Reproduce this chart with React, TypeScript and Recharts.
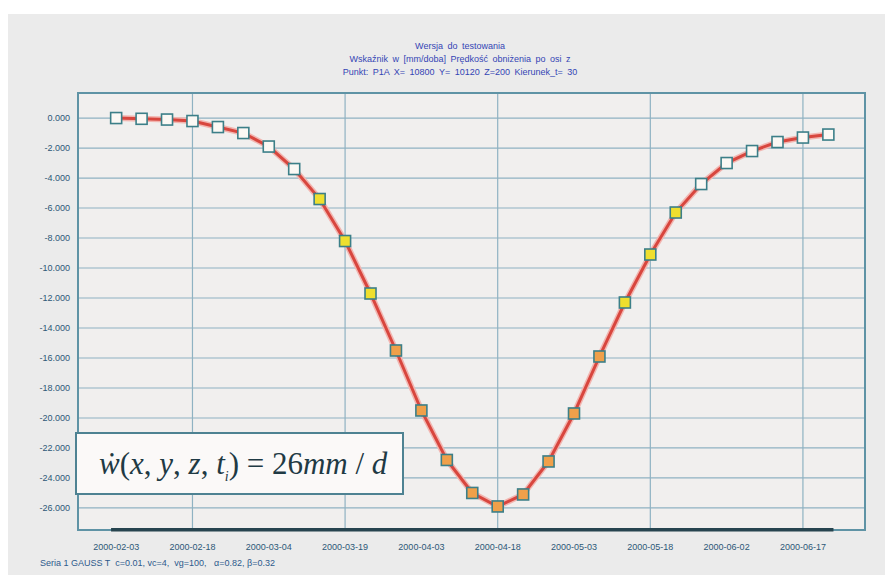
import React from "react";
import {
  LineChart,
  Line,
  XAxis,
  YAxis,
  CartesianGrid,
  ReferenceArea,
  ReferenceLine,
} from "recharts";

// sample dates (every 5 days) and settlement rate in mm
const dates = [
  "2000-02-03", "2000-02-08", "2000-02-13", "2000-02-18", "2000-02-23",
  "2000-02-28", "2000-03-04", "2000-03-09", "2000-03-14", "2000-03-19",
  "2000-03-24", "2000-03-29", "2000-04-03", "2000-04-08", "2000-04-13",
  "2000-04-18", "2000-04-23", "2000-04-28", "2000-05-03", "2000-05-08",
  "2000-05-13", "2000-05-18", "2000-05-23", "2000-05-28", "2000-06-02",
  "2000-06-07", "2000-06-12", "2000-06-17", "2000-06-22",
];
const values = [
  0, -0.05, -0.1, -0.2, -0.6, -1.0, -1.9, -3.4, -5.4, -8.2, -11.7, -15.5,
  -19.5, -22.8, -25.0, -25.9, -25.1, -22.9, -19.7, -15.9, -12.3, -9.1, -6.3,
  -4.4, -3.0, -2.2, -1.6, -1.3, -1.1,
];
const tickDates = [
  "2000-02-03", "2000-02-18", "2000-03-04", "2000-03-19", "2000-04-03",
  "2000-04-18", "2000-05-03", "2000-05-18", "2000-06-02", "2000-06-17",
];
const yTicks = [0, -2, -4, -6, -8, -10, -12, -14, -16, -18, -20, -22, -24, -26];
const baseLine = { from: "2000-02-02", to: "2000-06-23", value: -27.45 };

const titleLines = [
  "Wersja do testowania",
  "Wskaźnik w [mm/doba]   Prędkość obniżenia po osi z",
  "Punkt: P1A  X= 10800  Y= 10120  Z=200  Kierunek_t= 30",
];
const footer = "Seria 1 GAUSS T  c=0.01, vc=4,  vg=100,   α=0.82, β=0.32";

const DAY = 86400000;
const t0 = Date.parse(dates[0]);
const toDay = (d: string) => Math.round((Date.parse(d) - t0) / DAY);

const data = dates.map((d, i) => ({ day: toDay(d), w: values[i] }));
const xTicks = tickDates.map(toDay);
const xDomain = [-7.5, 147.2];
const yDomain = [-27.47, 1.67];

const GRID = "#8fb2c2";
const TEXT = "#2d5878";

const SquareDot = (props: any) => {
  const { cx, cy, value } = props;
  if (cx == null || cy == null) return null;
  const fill = value > -5 ? "#fbf8f4" : value > -14 ? "#efdf2e" : "#f0a04a";
  return (
    <rect
      key={`dot-${cx}`}
      x={cx - 5.5}
      y={cy - 5.5}
      width={11}
      height={11}
      fill={fill}
      stroke="#3c7f88"
      strokeWidth={1.6}
    />
  );
};

const fmtDate = (v: number) => {
  const d = new Date(t0 + v * DAY);
  return d.toISOString().slice(0, 10);
};

export default function App() {
  return (
    <div
      style={{
        position: "absolute",
        left: 0,
        top: 0,
        width: 885,
        height: 575,
        background: "#ffffff",
        fontFamily: "'Liberation Sans', Arial, sans-serif",
      }}
    >
      <div
        style={{
          position: "absolute",
          left: 8,
          top: 14,
          width: 877,
          height: 561,
          background: "#ebebeb",
        }}
      />
      <div
        style={{
          position: "absolute",
          left: 0,
          top: 40,
          width: 920,
          textAlign: "center",
          color: "#3445b5",
          fontSize: 9,
          lineHeight: "13px",
          wordSpacing: 2,
        }}
      >
        {titleLines.map((t) => (
          <div key={t}>{t}</div>
        ))}
      </div>
      <div style={{ position: "absolute", left: 0, top: 0 }}>
        <LineChart
          width={885}
          height={575}
          data={data}
          margin={{ top: 93, right: 20, bottom: 0, left: 0 }}
        >
          <CartesianGrid
            stroke={GRID}
            strokeWidth={1.2}
            fill="#f1efee"
            fillOpacity={1}
          />
          <XAxis
            dataKey="day"
            type="number"
            domain={xDomain}
            ticks={xTicks}
            tickFormatter={fmtDate}
            allowDataOverflow
            height={45}
            axisLine={false}
            tickLine={false}
            tick={{ fill: TEXT, fontSize: 9 }}
            tickMargin={8}
          />
          <YAxis
            type="number"
            domain={yDomain}
            ticks={yTicks}
            tickFormatter={(v: number) => v.toFixed(3)}
            allowDataOverflow
            width={78}
            axisLine={false}
            tickLine={false}
            tick={{ fill: TEXT, fontSize: 9 }}
            tickMargin={2}
          />
          <ReferenceArea
            x1={xDomain[0]}
            x2={xDomain[1]}
            y1={yDomain[0]}
            y2={yDomain[1]}
            fill="none"
            stroke="#5f93a5"
            strokeWidth={2}
          />
          <ReferenceLine
            segment={[
              { x: toDay(baseLine.from), y: baseLine.value },
              { x: toDay(baseLine.to), y: baseLine.value },
            ]}
            stroke="#27444f"
            strokeWidth={3.5}
          />
          <Line
            dataKey="w"
            type="linear"
            stroke="#f2b5b0"
            strokeWidth={6}
            dot={false}
            activeDot={false}
            isAnimationActive={false}
          />
          <Line
            dataKey="w"
            type="linear"
            stroke="#d8463e"
            strokeWidth={3}
            dot={<SquareDot />}
            activeDot={false}
            isAnimationActive={false}
          />
        </LineChart>
      </div>
      <div
        style={{
          position: "absolute",
          left: 75,
          top: 432,
          width: 303,
          height: 59,
          background: "#fbf9f8",
          border: "2px solid #4e8292",
          fontFamily: "'Liberation Serif', 'Times New Roman', serif",
          fontSize: 31,
          color: "#1f3a44",
          lineHeight: "59px",
          paddingLeft: 22,
          boxSizing: "content-box",
          whiteSpace: "nowrap",
          overflow: "hidden",
        }}
      >
        <i>ẇ</i>(<i>x</i>, <i>y</i>, <i>z</i>, <i>t</i>
        <sub style={{ fontSize: 14 }}>
          <i>i</i>
        </sub>
        ) = 26<i>mm</i> / <i>d</i>
      </div>
      <div
        style={{
          position: "absolute",
          left: 40,
          top: 558,
          fontSize: 9,
          color: "#2d5a8c",
          whiteSpace: "pre",
        }}
      >
        {footer}
      </div>
    </div>
  );
}
